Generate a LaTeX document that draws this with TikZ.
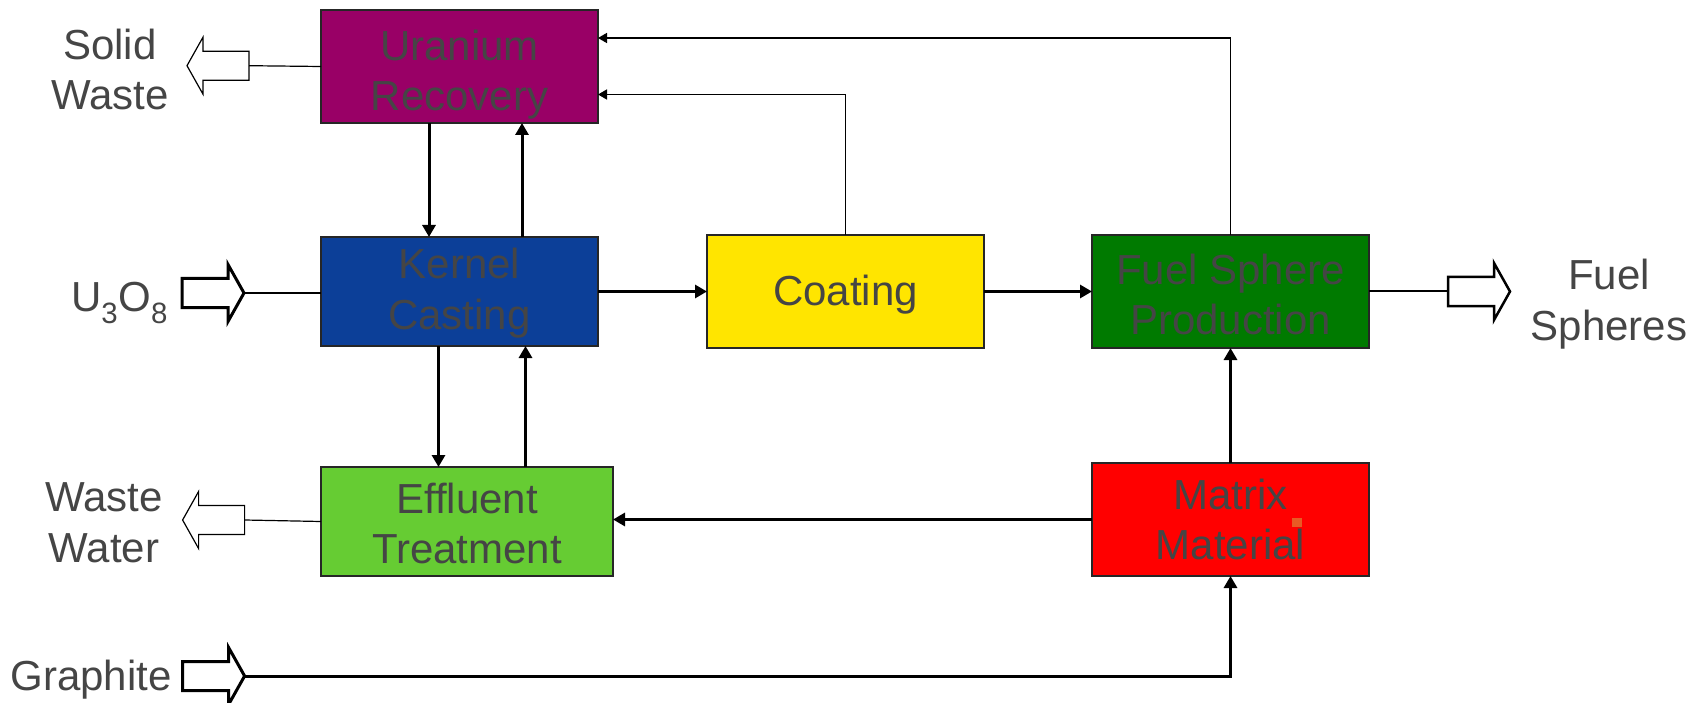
\documentclass[tikz,border=0pt]{standalone}
\usepackage{fontspec}
\setmainfont{Liberation Sans}
\usetikzlibrary{positioning,arrows.meta}
\definecolor{uraniumcol}{HTML}{990066}
\definecolor{kernelcol}{HTML}{0C3F98}
\definecolor{coatcol}{HTML}{FFE500}
\definecolor{spherecol}{HTML}{007A00}
\definecolor{effluentcol}{HTML}{66CC33}
\definecolor{matrixcol}{HTML}{FF0000}
\definecolor{txtgray}{HTML}{454545}
\definecolor{speckcol}{HTML}{E85A24}

\begin{document}
\begin{tikzpicture}[x=1pt, y=1pt,
  font=\fontsize{42}{50.5}\selectfont,
  box/.style={draw=black!85, line width=1.3pt, align=center, text=txtgray, minimum width=277pt, minimum height=111pt, inner sep=0pt, outer sep=0pt},
  lbl/.style={align=center, text=txtgray, inner sep=0pt},
  arr/.style={-{Triangle[length=12pt,width=13pt]}, line width=3pt},
  thinarr/.style={-{Triangle[length=9pt,width=10pt]}, line width=1.6pt},
  pics/fatarrow/.style={code={
    \draw[pic actions] (0,14.5) -- (46,14.5) -- (46,28.5) -- (62,0) -- (46,-28.5) -- (46,-14.5) -- (0,-14.5) -- cycle;
  }}
]
\useasboundingbox (0,0) rectangle (1702,-703);

% process boxes
\node[box, fill=uraniumcol, minimum height=113pt] (uranium) at (459.5,-66.5) {\rule{0pt}{47pt}Uranium\\Recovery};
\node[box, fill=kernelcol, minimum height=109pt, below=114pt of uranium] (kernel) {\rule{0pt}{34pt}Kernel\\Casting};
\node[box, fill=coatcol, minimum height=113pt, right=109pt of kernel] (coating) {\rule{0pt}{37pt}Coating};
\node[box, fill=spherecol, minimum height=113pt, right=108pt of coating] (fuel) {\rule{0pt}{36pt}Fuel Sphere\\Production};
\node[box, fill=matrixcol, minimum height=113pt, below=115pt of fuel] (matrix) {Matrix\\Material};
\node[box, fill=effluentcol, minimum width=292pt, minimum height=109pt, below right=121pt and 0pt of kernel.south west] (effluent) {\rule{0pt}{34pt}Effluent\\Treatment};
\fill[speckcol] (1292,-518) rectangle (1302,-527);

% inputs and outputs
\node[lbl] (solidwaste) at (110,-69.5) {Solid\\Waste};
\node[lbl, anchor=base] (uoxide) at (119.5,-312) {U\textsubscript{3}O\textsubscript{8}};
\node[lbl] (wastewater) at (104,-523) {Waste\\Water};
\node[lbl, anchor=base] (graphite) at (91,-690) {Graphite};
\node[lbl] (fuelspheres) at (1609,-304) {Fuel\\Spheres};

\pic[draw, fill=white, line width=1.2pt, rotate=180] at (249,-65.7) {fatarrow};
\coordinate (swtail) at (249,-65.7);
\pic[draw, fill=white, line width=3pt] at (182,-293) {fatarrow};
\coordinate (u3tip) at (244,-293);
\pic[draw, fill=white, line width=1.2pt, rotate=180] at (244.6,-520) {fatarrow};
\coordinate (wwtail) at (244.6,-520);
\pic[draw, fill=white, line width=3pt] at (182.6,-676) {fatarrow};
\coordinate (graphtip) at (244.6,-676);
\pic[draw, fill=white, line width=2.5pt] at (1448,-291.5) {fatarrow};
\coordinate (sphtail) at (1448,-291.5);

\draw[line width=1.2pt] (uranium.west) -- (swtail);
\draw[line width=2.5pt] (u3tip) -- (u3tip -| kernel.west);
\draw[line width=1.2pt] (effluent.west) -- (wwtail);
\draw[arr] (graphtip) -| (matrix.south);
\draw[line width=2pt] (fuel.east) -- (fuel.east -| sphtail);

% flows between boxes
\draw[arr] ([xshift=-30.5pt]uranium.south) -- ([xshift=-30.5pt]kernel.north);
\draw[arr] ([xshift=62.5pt]kernel.north) -- ([xshift=62.5pt]uranium.south);
\draw[arr] ([xshift=-21pt]kernel.south) -- ([xshift=-21pt]kernel.south |- effluent.north);
\draw[arr] ([xshift=66pt]kernel.south |- effluent.north) -- ([xshift=66pt]kernel.south);
\draw[arr] (kernel) -- (coating);
\draw[arr] (coating) -- (fuel);
\draw[thinarr] (coating.north) |- ([yshift=-28pt]uranium.east);
\draw[thinarr] (fuel.north) |- ([yshift=28.5pt]uranium.east);
\draw[arr] (matrix) -- (fuel);
\draw[arr] (matrix.west) -- (matrix.west -| effluent.east);
\end{tikzpicture}
\end{document}
